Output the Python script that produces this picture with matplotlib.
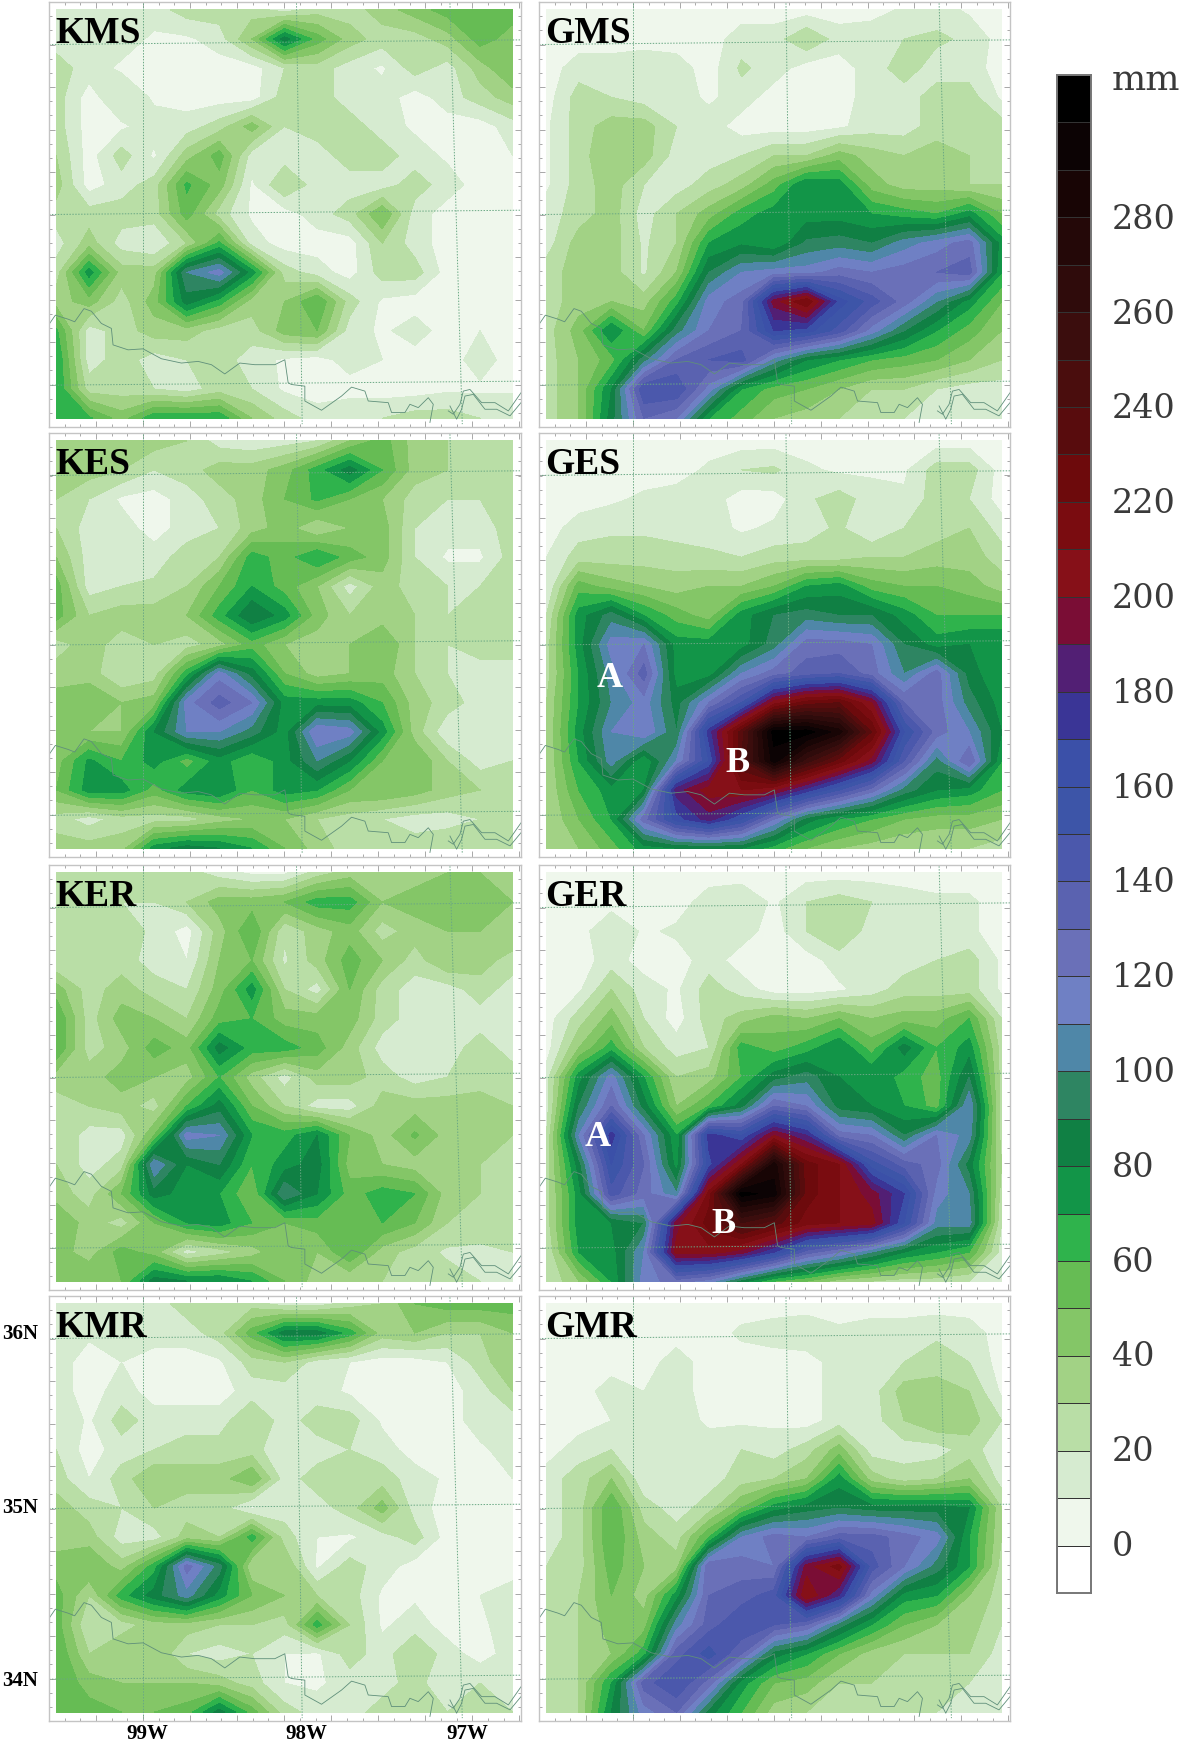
import numpy as np
import matplotlib
matplotlib.use("Agg")
import matplotlib.pyplot as plt
from matplotlib.colors import ListedColormap, BoundaryNorm

W, H = 1184, 1744

# accumulated rain (mm), rows run north to south
kms = [
 [15,15,15,15,25,25,25,15,25,25,35,45,55,55,55],
 [15,15,15,8,8,15,40,85,55,35,25,25,35,55,45],
 [25,15,8,5,5,5,5,20,25,15,8,25,15,35,50],
 [25,5,20,8,5,5,5,25,25,15,15,5,15,25,35],
 [25,5,8,15,15,25,45,20,25,25,15,8,5,5,15],
 [30,5,25,8,35,55,15,15,15,25,25,15,8,5,10],
 [35,5,15,25,62,45,8,30,15,15,15,25,15,5,5],
 [25,25,25,25,55,25,8,5,15,25,50,15,5,5,5],
 [15,35,15,10,30,62,15,5,5,5,30,15,5,5,5],
 [25,75,35,35,100,115,75,25,15,5,25,25,5,5,5],
 [35,45,25,45,85,65,35,40,60,25,8,5,5,5,5],
 [62,15,25,35,35,25,25,45,50,15,8,15,5,10,5],
 [70,15,25,15,20,25,15,8,5,15,10,5,5,15,5],
 [70,25,25,20,15,25,20,8,5,5,5,5,8,8,8],
 [70,62,45,68,68,68,40,25,15,20,20,25,25,20,20],
]
gms = [
 [5,5,5,5,5,5,5,5,5,5,5,12,15,8,8],
 [5,5,5,5,5,5,15,15,30,15,18,20,22,18,5],
 [5,15,15,18,15,5,22,15,5,5,15,25,15,15,5],
 [5,25,20,15,15,8,15,5,5,5,15,15,25,25,8],
 [8,25,35,35,20,15,5,5,5,8,15,15,25,25,25],
 [8,25,40,35,15,15,20,30,30,45,35,30,35,30,25],
 [8,25,35,20,15,25,35,55,80,75,45,35,35,30,30],
 [15,25,35,15,30,45,65,75,75,75,70,65,60,75,50],
 [15,35,35,18,30,70,78,70,92,95,90,105,115,125,75],
 [25,35,35,18,40,90,110,115,115,125,120,125,130,135,70],
 [25,35,40,35,65,115,125,195,220,165,145,125,100,75,50],
 [25,45,80,50,95,120,130,170,165,145,115,90,70,55,40],
 [25,40,55,95,130,140,145,105,80,70,60,55,50,40,30],
 [25,40,80,150,150,115,70,55,50,40,30,30,20,15,15],
 [25,40,85,130,120,70,55,40,35,30,25,20,20,15,15],
]
kes = [
 [35,35,35,35,30,15,12,15,20,40,55,35,30,30,30],
 [35,35,30,20,25,35,35,45,65,85,60,35,30,30,30],
 [30,20,8,5,15,25,35,50,62,50,40,25,20,20,30],
 [30,15,15,5,15,20,35,45,30,40,45,20,15,15,25],
 [40,15,15,15,25,30,65,55,70,55,45,20,8,8,25],
 [55,15,20,22,30,50,70,55,40,15,35,25,20,20,30],
 [55,30,35,35,40,65,90,75,45,30,35,30,20,30,20],
 [25,35,25,30,25,35,55,40,35,40,50,30,20,25,25],
 [35,35,20,25,65,115,85,50,35,40,45,30,20,15,15],
 [45,50,40,45,115,135,120,75,75,75,60,35,25,15,15],
 [40,40,40,80,110,110,95,75,120,115,75,35,12,15,20],
 [45,72,60,75,55,75,60,75,100,80,50,50,30,15,20],
 [50,75,75,55,75,80,60,75,70,50,50,45,35,30,30],
 [25,15,25,25,25,35,40,40,30,25,20,15,15,20,30],
 [35,35,35,75,85,80,70,50,35,25,25,25,30,30,30],
]
ges = [
 [5,5,5,5,5,5,5,5,5,5,5,5,5,5,5],
 [5,5,5,5,5,12,20,22,12,8,8,8,25,25,5],
 [5,5,8,12,15,15,5,5,18,25,15,12,25,20,5],
 [5,15,18,18,15,15,8,12,15,22,10,20,25,30,15],
 [10,25,25,25,25,22,20,25,25,25,30,30,35,35,25],
 [10,55,45,40,35,40,40,50,70,75,55,50,50,45,35],
 [20,75,95,70,55,45,75,90,95,90,90,75,60,60,60],
 [25,75,115,120,75,75,75,95,125,125,120,90,75,80,80],
 [25,70,105,135,75,75,110,125,135,140,125,100,125,85,70],
 [30,70,100,115,85,120,150,205,225,230,200,130,125,95,75],
 [30,75,110,120,90,175,235,305,305,285,230,160,125,110,80],
 [30,70,105,70,110,160,240,295,255,225,195,140,95,130,70],
 [30,60,75,80,185,205,210,200,175,150,125,95,80,75,60],
 [30,50,70,125,165,185,160,120,85,70,60,50,45,45,40],
 [30,40,55,75,80,80,80,65,50,40,35,30,30,30,25],
]
ker = [
 [25,25,25,30,25,15,8,8,25,35,35,35,40,40,40],
 [25,20,20,20,30,45,45,50,65,65,40,45,50,50,40],
 [25,25,25,18,5,35,60,22,35,45,25,35,40,40,40],
 [20,25,25,15,10,40,50,18,35,55,40,25,40,35,25],
 [45,25,35,25,20,45,75,30,15,50,25,15,15,25,15],
 [60,25,45,40,30,55,60,45,45,45,25,15,15,15,15],
 [60,25,35,55,45,85,65,65,55,35,15,15,15,25,15],
 [35,35,45,40,35,60,35,15,35,35,25,15,20,25,25],
 [25,30,35,25,60,85,50,30,15,15,35,35,35,35,30],
 [30,15,15,50,115,110,70,65,80,50,35,52,35,35,30],
 [30,15,25,110,80,90,60,75,85,45,40,35,35,30,30],
 [35,25,50,85,75,70,50,100,80,55,65,60,35,30,30],
 [50,35,25,50,70,75,60,50,55,55,60,50,30,25,25],
 [45,35,55,45,15,25,35,50,40,60,35,25,18,18,20],
 [45,50,50,85,80,80,70,50,35,30,30,30,25,20,20],
]
ger = [
 [5,5,5,5,5,5,5,5,5,5,5,5,5,5,5],
 [5,5,5,5,5,15,18,8,20,25,20,15,12,12,5],
 [5,5,20,8,12,15,15,5,20,30,15,15,12,12,5],
 [5,5,15,5,5,15,5,5,5,15,15,15,20,25,8],
 [5,8,30,15,8,25,15,5,5,8,15,25,25,25,8],
 [5,25,45,20,5,25,35,45,40,50,40,45,45,60,20],
 [5,40,65,30,15,20,65,55,65,80,55,85,60,75,25],
 [15,75,115,70,30,35,60,85,95,80,80,65,55,90,25],
 [15,90,130,85,40,60,85,130,120,85,80,70,55,110,25],
 [20,110,175,120,70,175,160,200,180,125,120,90,120,105,25],
 [25,85,160,130,75,165,210,285,225,210,155,135,125,85,30],
 [25,75,145,125,100,215,305,295,225,210,195,170,115,100,25],
 [25,75,80,90,195,225,250,235,215,210,205,160,105,105,20],
 [20,70,75,110,205,205,195,170,135,120,100,80,70,60,15],
 [20,40,70,115,125,115,85,60,50,35,30,25,25,20,15],
]
kmr = [
 [15,20,20,15,25,25,25,15,15,25,30,50,55,55,55],
 [12,12,15,15,15,25,55,85,85,65,35,40,30,30,40],
 [15,5,10,5,5,8,25,30,15,10,5,5,10,25,40],
 [15,5,15,5,5,5,15,15,15,8,5,5,5,15,30],
 [20,8,25,15,15,15,30,15,25,25,8,5,5,15,15],
 [20,5,15,20,25,25,25,10,15,20,15,5,8,8,15],
 [25,10,25,40,35,35,50,15,25,25,25,15,8,8,10],
 [35,25,20,30,25,25,8,15,15,25,45,15,5,5,10],
 [35,35,15,15,35,30,65,25,10,8,15,25,5,5,5],
 [45,50,35,65,125,95,30,40,8,25,15,5,5,5,8],
 [55,30,65,85,105,75,50,40,30,25,8,8,5,10,12],
 [55,20,25,35,35,30,30,25,65,30,8,15,5,8,15],
 [60,30,40,40,20,15,20,10,8,25,15,30,15,5,15],
 [60,45,40,40,40,35,25,10,8,15,15,25,10,20,20],
 [60,55,50,50,55,85,55,25,15,15,25,25,20,25,20],
]
gmr = [
 [5,5,5,5,5,5,5,5,5,5,5,5,5,5,5],
 [5,5,5,5,5,5,12,15,18,12,15,15,18,15,5],
 [5,5,5,5,15,5,5,5,5,15,15,20,25,20,5],
 [5,5,15,10,15,5,5,5,5,15,15,35,35,30,8],
 [5,5,10,15,15,8,8,8,5,15,15,30,40,35,20],
 [5,15,20,15,15,15,20,15,25,45,15,15,15,25,12],
 [15,25,40,12,15,15,25,30,40,75,35,25,30,40,15],
 [15,25,60,25,15,25,50,75,85,90,85,85,85,80,30],
 [15,25,60,35,25,60,110,125,120,135,135,125,115,70,30],
 [20,25,55,40,35,130,125,120,195,215,145,120,95,70,25],
 [20,30,50,35,75,130,135,145,210,180,115,75,70,40,25],
 [20,30,45,45,105,135,150,140,130,95,70,50,40,35,20],
 [25,30,40,65,135,155,130,85,70,50,35,30,30,30,15],
 [25,30,70,135,150,125,75,50,45,30,30,25,25,20,15],
 [25,30,80,115,130,85,60,35,30,25,25,25,20,20,15],
]

cbar_levels = np.arange(-10, 320, 10)
cbar_labels = np.arange(0, 300, 20)
colors = ["#ffffff", "#eff7ec", "#d6ebd0", "#b9dea6", "#a2d285", "#84c667", "#66bc54", "#2fb34c",
          "#129548", "#108044", "#2e8562", "#4f87a8", "#6f80c4", "#6a70b8", "#5a62b0", "#4b58ac",
          "#3d55a8", "#3b50a8", "#3a3596", "#521f74", "#7a0d35", "#861018", "#7a0c10", "#6d0a0c",
          "#580c0d", "#4a0d0d", "#3b0d0d", "#2f0b0b", "#240808", "#180505", "#0c0304", "#000000"]
cmap = ListedColormap(colors)
norm = BoundaryNorm(cbar_levels, cmap.N)

left_x, right_x = (49, 521), (539, 1010)
rows_y = [(2, 427), (433, 857), (865, 1290), (1296, 1721)]
panels = [("KMS", kms, 0, 0), ("GMS", gms, 0, 1), ("KES", kes, 1, 0), ("GES", ges, 1, 1),
          ("KER", ker, 2, 0), ("GER", ger, 2, 1), ("KMR", kmr, 3, 0), ("GMR", gmr, 3, 1)]

# map lines are kept in the pixel frame of a panel crop, scaled to lon/lat here
def lon(px):
    return -99 + (np.asarray(px, float) - 285) / 470.0
def lat(py):
    return 36 - (np.asarray(py, float) - 130) / 515.0

river_x = [5,22,60,80,108,130,160,190,195,240,285,340,400,450,490,530,575,620,680,710,720,730,770,770,820,880,910,950,960,1020,1030,1070,1085,1110,1140,1155,1145]
river_y = [975,950,962,970,930,938,975,990,1040,1055,1052,1082,1095,1090,1100,1128,1095,1100,1100,1085,1155,1160,1165,1210,1238,1195,1168,1180,1210,1215,1245,1245,1220,1230,1200,1220,1275]
east_x = [1200,1215,1235,1245,1265,1300,1340,1380,1418]
east_y = [1240,1250,1220,1180,1175,1215,1215,1240,1185]
east2_x = [1205,1225,1240,1250,1275,1310,1345,1385,1418]
east2_y = [1225,1265,1235,1195,1190,1235,1235,1255,1215]

lons = np.linspace(lon(25), lon(1393), 15)
lats = np.linspace(lat(25), lat(1262), 15)

fig = plt.figure(figsize=(W / 100, H / 100), dpi=100, facecolor="white")
def px_axes(x0, x1, y0, y1):
    return fig.add_axes([x0 / W, 1 - y1 / H, (x1 - x0) / W, (y1 - y0) / H])

for name, field, r, c in panels:
    xs = left_x if c == 0 else right_x
    ys = rows_y[r]
    ax = px_axes(xs[0], xs[1], ys[0], ys[1])
    ax.contourf(lons, lats, np.array(field), levels=cbar_levels, cmap=cmap, norm=norm)
    ax.set_xlim(lon(3), lon(1418))
    ax.set_ylim(lat(1280), lat(5))
    for s in ax.spines.values():
        s.set_color("#c4c4c4")
        s.set_linewidth(1.0)
    ax.set_xticks(np.arange(-99.6, -96.55, 0.3))
    ax.set_xticks(np.arange(-99.6, -96.55, 0.1), minor=True)
    ax.set_yticks(np.arange(33.75, 36.3, 0.25))
    ax.set_yticks(np.arange(33.75, 36.3, 0.0833), minor=True)
    ax.tick_params(which="both", direction="in", top=True, right=True, labelbottom=False,
                   labelleft=False, color="#a8a8a8", width=0.7)
    ax.tick_params(which="major", length=4)
    ax.tick_params(which="minor", length=2)
    # lat/lon graticule
    grid_kw = dict(color="#6aa884", lw=0.7, ls=(0, (1.5, 1.5)))
    ax.plot(lon([285, 285]), lat([5, 1280]), **grid_kw)
    ax.plot(lon([745, 762]), lat([5, 1280]), **grid_kw)
    ax.plot(lon([1205, 1242]), lat([5, 1280]), **grid_kw)
    ax.plot(lon([3, 1418]), lat([130, 116]), **grid_kw)
    ax.plot(lon([3, 1418]), lat([645, 632]), **grid_kw)
    ax.plot(lon([3, 1418]), lat([1162, 1150]), **grid_kw)
    ax.plot(lon(river_x), lat(river_y), color="#5f8f7a", lw=0.6)
    ax.plot(lon(east_x), lat(east_y), color="#5f8f7a", lw=0.6)
    ax.plot(lon(east2_x), lat(east2_y), color="#5f8f7a", lw=0.6)
    fig.text((xs[0] + 6) / W, 1 - (ys[0] + 41) / H, name, family="Liberation Serif",
             weight="bold", fontsize=27, color="black", va="baseline")

for txt, x, y in [("A", 610, 678), ("B", 737, 763), ("A", 598, 1137), ("B", 723, 1224)]:
    fig.text(x / W, 1 - y / H, txt, family="Liberation Serif", weight="bold", fontsize=26,
             color="white", ha="center", va="center")

for txt, x in [("99W", 147), ("98W", 306), ("97W", 467)]:
    fig.text(x / W, 1 - 1734 / H, txt, family="Liberation Serif", weight="bold", fontsize=15,
             ha="center", va="center")
for txt, y in [("36N", 1334), ("35N", 1508), ("34N", 1681)]:
    fig.text(20 / W, 1 - y / H, txt, family="Liberation Serif", weight="bold", fontsize=15,
             ha="center", va="center")

# colour bar
cax = px_axes(1057, 1091, 75, 1593)
cax.pcolormesh([0, 1], cbar_levels, np.arange(len(colors))[:, None], cmap=ListedColormap(colors),
               edgecolors="#333333", linewidth=0.5)
cax.set_xticks([])
cax.set_yticks([])
cax.set_ylim(-10, 310)
for s in cax.spines.values():
    s.set_color("#777777")
    s.set_linewidth(1.4)
for v in cbar_labels:
    y = 1547 - v * 4.74
    fig.text(1112 / W, 1 - y / H, str(v), family="DejaVu Serif", fontsize=24, color="#3a3a3a",
             ha="left", va="center")
fig.text(1112 / W, 1 - 80 / H, "mm", family="DejaVu Serif", fontsize=26, color="#3a3a3a",
         ha="left", va="center")

fig.savefig("out.png", dpi=100)
